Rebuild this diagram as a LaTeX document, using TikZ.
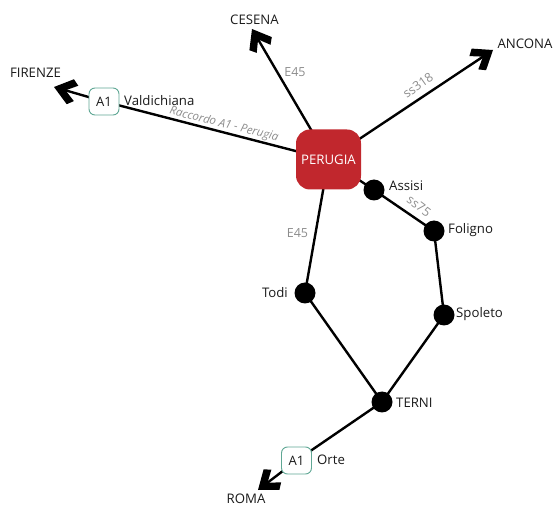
\documentclass[tikz,border=0pt]{standalone}
\usepackage{fontspec}
\setmainfont{Open Sans}
\usetikzlibrary{arrows.meta,backgrounds}
\definecolor{hub}{HTML}{C1272D}
\definecolor{badge}{HTML}{5FA794}
\definecolor{roadlabel}{HTML}{8C8C8C}
\definecolor{place}{HTML}{1A1A1A}
\pgfdeclarearrow{
  name=Chevron,
  setup code={
    \pgfarrowssettipend{0pt}
    \pgfarrowssetlineend{-10pt}
    \pgfarrowssetvisualbackend{-12pt}
    \pgfarrowssetbackend{-23pt}
  },
  drawing code={
    \pgfpathmoveto{\pgfqpoint{0pt}{0pt}}
    \pgfpathlineto{\pgfqpoint{-17pt}{13pt}}
    \pgfpathlineto{\pgfqpoint{-23pt}{8pt}}
    \pgfpathlineto{\pgfqpoint{-12pt}{0pt}}
    \pgfpathlineto{\pgfqpoint{-23pt}{-8pt}}
    \pgfpathlineto{\pgfqpoint{-17pt}{-13pt}}
    \pgfpathclose
    \pgfusepathqfill
  }
}
\tikzset{
  road/.style={line width=2.4pt,black},
  exitroad/.style={road,-{Chevron}},
  stopdot/.style={circle,fill=black,minimum size=21pt,inner sep=0pt},
  hubbox/.style={rounded corners=14pt,fill=hub,minimum width=65pt,minimum height=60pt,inner sep=0pt,text=white,font=\fontsize{13.2}{15}\selectfont},
  tollbox/.style={rounded corners=6pt,draw=badge,line width=0.9pt,fill=white,minimum width=30pt,minimum height=27pt,inner sep=0pt,text=place,font=\fontsize{13}{15}\selectfont},
  placetext/.style={inner sep=0pt,text=place,font=\fontsize{13.2}{15}\selectfont},
  roadtext/.style={inner sep=0pt,text=roadlabel,font=\fontsize{12.5}{14}\selectfont},
  smalltext/.style={inner sep=0pt,text=roadlabel,font=\fontsize{11.5}{13}\selectfont}
}
\begin{document}
\begin{tikzpicture}[x=1pt,y=-1pt]
\useasboundingbox (0,0) rectangle (555,505);
% nodes
\node[hubbox] (perugia) at (328.5,159.5) {PERUGIA};
\node[tollbox] (a1n) at (104,101.5) {A1};
\node[tollbox] (a1s) at (296.5,460.5) {A1};
\node[stopdot] (assisi) at (374,190) {};
\node[stopdot] (foligno) at (434,231) {};
\node[stopdot] (spoleto) at (444,315) {};
\node[stopdot] (todi) at (305,293) {};
\node[stopdot] (terni) at (382,402) {};
\coordinate (cesena) at (252,29);
\coordinate (ancona) at (493,50);
\coordinate (firenze) at (54,87);
\coordinate (roma) at (258,490);
% connectors
\begin{scope}[on background layer]
\draw[exitroad] (perugia.center) -- (cesena);
\draw[exitroad] (perugia.center) -- (ancona);
\draw[road] (perugia.center) -- (a1n.center);
\draw[exitroad] (a1n.center) -- (firenze);
\draw[road] (perugia.center) -- (assisi.center);
\draw[road] (assisi.center) -- (foligno.center);
\draw[road] (foligno.center) -- (spoleto.center);
\draw[road] (spoleto.center) -- (terni.center);
\draw[road] (perugia.center) -- (todi.center);
\draw[road] (todi.center) -- (terni.center);
\draw[road] (terni.center) -- (a1s.center);
\draw[exitroad] (a1s.center) -- (roma);
\end{scope}
% place labels
\node[placetext] (lcesena) at (254.5,20) {CESENA};
\node[placetext] (lancona) at (525,44) {ANCONA};
\node[placetext] (lfirenze) at (35.5,73) {FIRENZE};
\node[placetext] (lroma) at (246,498.5) {ROMA};
\node[placetext,anchor=west] (lvald) at (124,101) {Valdichiana};
\node[placetext,anchor=west] (lassisi) at (389,186) {Assisi};
\node[placetext,anchor=west] (lfoligno) at (448,230) {Foligno};
\node[placetext,anchor=west] (lspoleto) at (456,314) {Spoleto};
\node[placetext,anchor=east] (ltodi) at (288,293) {Todi};
\node[placetext,anchor=west] (lterni) at (396,403) {TERNI};
\node[placetext,anchor=west] (lorte) at (317,460) {Orte};
% road labels
\node[roadtext] (e45a) at (295,72) {E45};
\node[roadtext] (e45b) at (297.5,233) {E45};
\node[roadtext,rotate=35] (ss318) at (418,85.5) {ss318};
\node[roadtext,rotate=-37] (ss75) at (419,206) {ss75};
\node[smalltext,rotate=-14] (raccordo) at (224,124.5) {\textit{Raccordo A1 - Perugia}};
\end{tikzpicture}
\end{document}
